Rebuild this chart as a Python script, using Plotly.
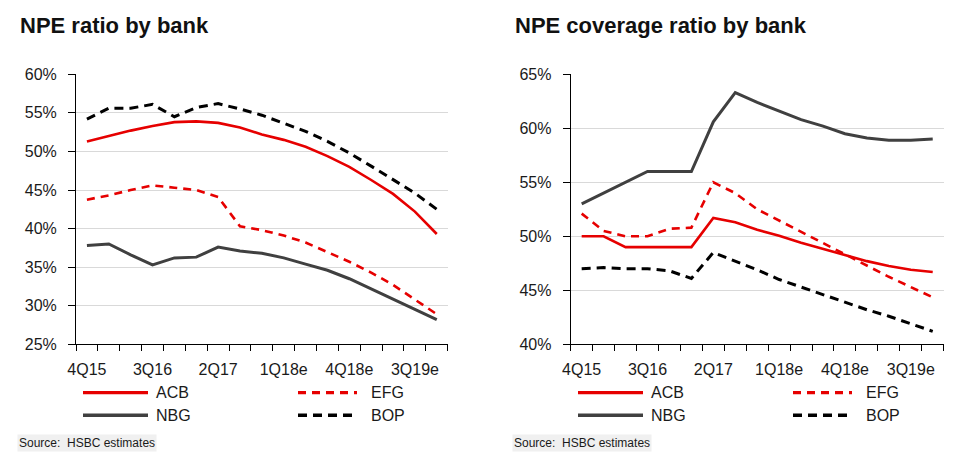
import plotly.graph_objects as go

# ---------------- data ----------------
quarters = ["4Q15", "1Q16", "2Q16", "3Q16", "4Q16", "1Q17", "2Q17", "3Q17", "4Q17",
            "1Q18e", "2Q18e", "3Q18e", "4Q18e", "1Q19e", "2Q19e", "3Q19e", "4Q19e"]
shown_labels = ["4Q15", "3Q16", "2Q17", "1Q18e", "4Q18e", "3Q19e"]

bank_names = ["ACB", "EFG", "NBG", "BOP"]

# NPE ratio by bank (%)
acb_npe = [51.3, 52.0, 52.7, 53.3, 53.8, 53.9, 53.7, 53.1, 52.2, 51.5, 50.6, 49.4, 48.0, 46.3, 44.5, 42.2, 39.3]
efg_npe = [43.75, 44.3, 45.0, 45.6, 45.3, 45.0, 44.1, 40.3, 39.8, 39.1, 38.2, 37.0, 35.7, 34.3, 32.7, 30.8, 28.9]
nbg_npe = [37.8, 38.0, 36.6, 35.3, 36.2, 36.3, 37.6, 37.1, 36.8, 36.2, 35.4, 34.6, 33.5, 32.2, 30.8, 29.5, 28.2]
bop_npe = [54.2, 55.6, 55.6, 56.1, 54.5, 55.7, 56.2, 55.5, 54.7, 53.7, 52.6, 51.3, 49.8, 48.1, 46.3, 44.6, 42.5]

# NPE coverage ratio by bank (%)
acb_cov = [50.0, 50.0, 49.0, 49.0, 49.0, 49.0, 51.7, 51.3, 50.6, 50.05, 49.4, 48.85, 48.3, 47.7, 47.25, 46.9, 46.7]
efg_cov = [52.1, 50.5, 50.0, 50.0, 50.7, 50.8, 55.0, 54.0, 52.5, 51.45, 50.4, 49.35, 48.3, 47.3, 46.25, 45.3, 44.35]
nbg_cov = [53.0, 54.0, 55.0, 56.0, 56.0, 56.0, 60.6, 63.3, 62.4, 61.6, 60.8, 60.2, 59.5, 59.1, 58.9, 58.9, 59.0]
bop_cov = [47.0, 47.1, 47.0, 47.0, 46.8, 46.1, 48.5, 47.7, 46.9, 46.0, 45.3, 44.6, 43.9, 43.2, 42.6, 41.9, 41.2]

npe_series = [acb_npe, efg_npe, nbg_npe, bop_npe]
cov_series = [acb_cov, efg_cov, nbg_cov, bop_cov]

titles = ["NPE ratio by bank", "NPE coverage ratio by bank"]
source_text = "Source:&nbsp; HSBC estimates"

# ---------------- styling ----------------
W, H = 975, 464
FONT = "Liberation Sans, Arial, sans-serif"
TXT = "#1a1a1a"
RED = "#e60000"
styles = {
    "ACB": dict(color=RED, width=2.6, dash="solid"),
    "EFG": dict(color=RED, width=2.6, dash="8px,6px"),
    "NBG": dict(color="#404040", width=3.0, dash="solid"),
    "BOP": dict(color="#000000", width=3.0, dash="9px,6px"),
}


def px(x):
    return x / W


def py(y):
    return 1 - y / H


fig = go.Figure()

for name, vals in zip(bank_names, npe_series):
    fig.add_trace(go.Scatter(x=quarters, y=vals, mode="lines", name=name,
                             line=styles[name], xaxis="x", yaxis="y", showlegend=False))
for name, vals in zip(bank_names, cov_series):
    fig.add_trace(go.Scatter(x=quarters, y=vals, mode="lines", name=name,
                             line=styles[name], xaxis="x2", yaxis="y2", showlegend=False))

tick_text = [q if q in shown_labels else "" for q in quarters]


def xaxis_cfg(domain, anchor):
    return dict(domain=domain, anchor=anchor, type="category", categoryorder="array",
                categoryarray=quarters, range=[-0.5, len(quarters) - 0.5],
                tickmode="array", tickvals=quarters, ticktext=tick_text, tickangle=0,
                tickson="boundaries", ticks="outside", ticklen=6, tickwidth=1,
                tickcolor="#000", showline=True, linecolor="#000", linewidth=1,
                showgrid=False, zeroline=False, fixedrange=True, automargin=False,
                ticklabelstandoff=10,
                tickfont=dict(size=16, color=TXT, family=FONT))


def yaxis_cfg(domain, anchor, rng):
    return dict(domain=domain, anchor=anchor, range=rng, tickmode="linear",
                tick0=rng[0], dtick=5, ticksuffix="%", ticks="outside", ticklen=7,
                tickwidth=1, tickcolor="#000", showline=True, linecolor="#000",
                linewidth=1, showgrid=True, gridcolor="#d9d9d9", gridwidth=1,
                zeroline=False, fixedrange=True, ticklabelstandoff=8, automargin=False,
                tickfont=dict(size=16, color=TXT, family=FONT))


ydom = [py(344.3), py(74.3)]
fig.update_layout(
    width=W, height=H,
    margin=dict(l=0, r=0, t=0, b=0, pad=0, autoexpand=False),
    paper_bgcolor="white", plot_bgcolor="white",
    font=dict(family=FONT, size=16, color=TXT),
    showlegend=False,
    xaxis=xaxis_cfg([px(76), px(447.7)], "y"),
    yaxis=yaxis_cfg(ydom, "x", [25, 60]),
    xaxis2=xaxis_cfg([px(570.7), px(943.7)], "y2"),
    yaxis2=yaxis_cfg(ydom, "x2", [40, 65]),
)

annotations = []
shapes = []
panel_offsets = [0, 495]
title_x = [18, 513]
for p, off in enumerate(panel_offsets):
    annotations.append(dict(text="<b>" + titles[p] + "</b>", x=px(title_x[p]), y=py(25),
                            xref="paper", yref="paper", xanchor="left", yanchor="middle",
                            showarrow=False, font=dict(size=22, color="#111", family=FONT)))
    annotations.append(dict(text=source_text, x=px(title_x[p] - 1), y=py(443),
                            xref="paper", yref="paper", xanchor="left", yanchor="middle",
                            showarrow=False, bgcolor="#f0f0f0", borderpad=1,
                            font=dict(size=12, color=TXT, family=FONT)))
    # manual legend: 2 columns x 2 rows
    col_line = [(83, 148, 154), (298, 357, 369)]
    row_y = [392.7, 415.3]
    for i, name in enumerate(bank_names):
        c, r = i % 2, i // 2
        x0, x1, xt = col_line[c]
        st = styles[name]
        shapes.append(dict(type="line", xref="paper", yref="paper",
                           x0=px(x0 + off), x1=px(x1 + off), y0=py(row_y[r]), y1=py(row_y[r]),
                           line=dict(color=st["color"], width=st["width"] + 0.6, dash=st["dash"])))
        annotations.append(dict(text=name, x=px(xt + off), y=py(row_y[r]),
                                xref="paper", yref="paper", xanchor="left", yanchor="middle",
                                showarrow=False, font=dict(size=16, color=TXT, family=FONT)))

fig.update_layout(annotations=annotations, shapes=shapes)
fig.write_html("out.html", config={"displayModeBar": False, "staticPlot": True},
               post_script="document.body.style.margin='0';document.body.style.overflow='hidden';")
